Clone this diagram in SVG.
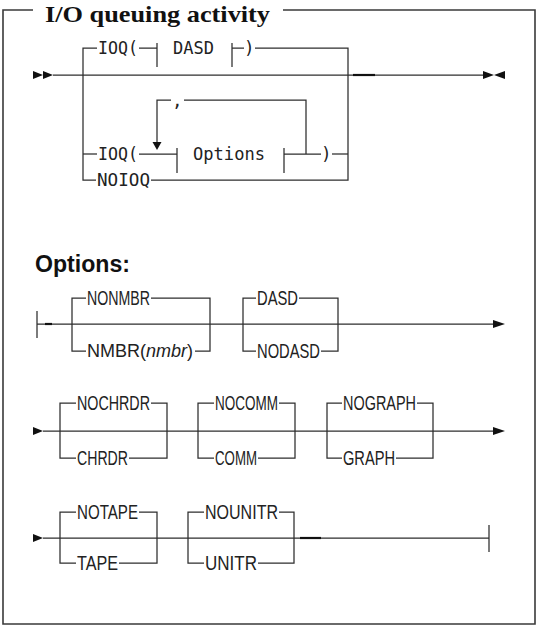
<svg xmlns="http://www.w3.org/2000/svg" width="537" height="626" viewBox="0 0 537 626">
<style>
.ln{stroke:#2e2e2e;stroke-width:1.25;fill:none}
.thick{stroke:#111;stroke-width:2.2;fill:none}
.frame{stroke:#3a3a3a;stroke-width:1.6;fill:none}
.arr{fill:#111;stroke:none}
.mono{font-family:"DejaVu Sans Mono","Liberation Mono",monospace;font-size:17.5px;fill:#222}
.sans{font-family:"Liberation Sans",Arial,sans-serif;font-size:20px;fill:#222}
.sm{font-size:18px}
.it{font-style:italic}
.title{font-family:"Liberation Serif","Times New Roman",serif;font-size:24px;font-weight:bold;fill:#111}
.head{font-family:"Liberation Sans",Arial,sans-serif;font-size:23px;font-weight:bold;fill:#111}
</style>
<rect width="537" height="626" fill="#fff"/>
<g id="frame">
<path class="frame" d="M33,10 H3 V624 H535 V10 H283"/>
<text class="title" x="45" y="22" textLength="225" lengthAdjust="spacingAndGlyphs">I/O queuing activity</text>
</g>
<g id="connectors">
<path class="ln" d="M53,75 H483"/>
<path class="thick" d="M353,75 H375"/>
<path class="ln" d="M97,48 H83 V180 H96"/>
<path class="ln" d="M83,154 H97"/>
<path class="ln" d="M139,48 H157 M157,43 V67"/>
<path class="ln" d="M232,43 V67 M232,48 H244"/>
<path class="ln" d="M255,48 H348 V180 H151"/>
<path class="ln" d="M139,154 H177 M177,148 V173"/>
<path class="ln" d="M284,148 V173 M284,154 H321"/>
<path class="ln" d="M332,154 H348"/>
<path class="ln" d="M306,154 V100 H184 M171,100 H157 V143"/>
<polygon class="arr" points="152.5,142 161.5,142 157,150"/>
<polygon class="arr" points="33,71 43,75 33,79"/>
<polygon class="arr" points="43,71 53,75 43,79"/>
<polygon class="arr" points="483,71 494,75 483,79"/>
<polygon class="arr" points="505,71 494,75 505,79"/>
<path class="ln" d="M37,311 V338 M37,324 H493"/>
<path class="thick" d="M45,324 H52"/>
<polygon class="arr" points="493,320 505,324 493,328"/>
<path class="ln" d="M86,298 H72 V351 H86 M151,298 H210 V351 H195"/>
<path class="ln" d="M256,298 H243 V351 H256 M299,298 H338 V351 H321"/>
<polygon class="arr" points="33,427 43,431 33,435"/>
<path class="ln" d="M43,431 H493"/>
<polygon class="arr" points="493,427 505,431 493,435"/>
<path class="ln" d="M76,403 H60 V458 H76 M151,403 H167 V458 H129"/>
<path class="ln" d="M214,403 H198 V458 H214 M279,403 H295 V458 H258"/>
<path class="ln" d="M342,403 H327 V458 H342 M417,403 H433 V458 H396"/>
<polygon class="arr" points="33,534 43,538 33,542"/>
<path class="ln" d="M43,538 H489 M489,525 V552"/>
<path class="thick" d="M300,538 H321"/>
<path class="ln" d="M76,512 H60 V563 H76 M139,512 H157 V563 H119"/>
<path class="ln" d="M204,512 H188 V563 H204 M279,512 H294 V563 H258"/>
</g>
<g id="n-ioq-dasd">
<text class="mono" x="98" y="54" textLength="40" lengthAdjust="spacingAndGlyphs">IOQ(</text>
<text class="mono" x="173" y="54" textLength="41" lengthAdjust="spacingAndGlyphs">DASD</text>
<text class="mono" x="244" y="54">)</text>
</g>
<g id="n-ioq-options">
<text class="mono" x="98" y="160" textLength="40" lengthAdjust="spacingAndGlyphs">IOQ(</text>
<text class="mono" x="193" y="160" textLength="72" lengthAdjust="spacingAndGlyphs">Options</text>
<text class="mono" x="321" y="160">)</text>
<text class="mono" x="172" y="107">,</text>
</g>
<g id="n-noioq">
<text class="mono" x="97" y="186" textLength="53" lengthAdjust="spacingAndGlyphs">NOIOQ</text>
</g>
<g id="n-options-head">
<text class="head" x="35" y="272" textLength="95" lengthAdjust="spacingAndGlyphs">Options:</text>
</g>
<g id="n-nmbr">
<text class="sans" x="87" y="305" textLength="63" lengthAdjust="spacingAndGlyphs">NONMBR</text>
<text class="sans sm" x="87" y="357">NMBR(<tspan class="it">nmbr</tspan>)</text>
</g>
<g id="n-dasd">
<text class="sans" x="257" y="305" textLength="41" lengthAdjust="spacingAndGlyphs">DASD</text>
<text class="sans" x="257" y="358" textLength="63" lengthAdjust="spacingAndGlyphs">NODASD</text>
</g>
<g id="n-chrdr">
<text class="sans" x="77" y="410" textLength="73" lengthAdjust="spacingAndGlyphs">NOCHRDR</text>
<text class="sans" x="77" y="465" textLength="51" lengthAdjust="spacingAndGlyphs">CHRDR</text>
</g>
<g id="n-comm">
<text class="sans" x="215" y="410" textLength="63" lengthAdjust="spacingAndGlyphs">NOCOMM</text>
<text class="sans" x="215" y="465" textLength="42" lengthAdjust="spacingAndGlyphs">COMM</text>
</g>
<g id="n-graph">
<text class="sans" x="343" y="410" textLength="73" lengthAdjust="spacingAndGlyphs">NOGRAPH</text>
<text class="sans" x="343" y="465" textLength="52" lengthAdjust="spacingAndGlyphs">GRAPH</text>
</g>
<g id="n-tape">
<text class="sans" x="77" y="519" textLength="61" lengthAdjust="spacingAndGlyphs">NOTAPE</text>
<text class="sans" x="77" y="570" textLength="41" lengthAdjust="spacingAndGlyphs">TAPE</text>
</g>
<g id="n-unitr">
<text class="sans" x="205" y="519" textLength="73" lengthAdjust="spacingAndGlyphs">NOUNITR</text>
<text class="sans" x="205" y="570" textLength="52" lengthAdjust="spacingAndGlyphs">UNITR</text>
</g>
</svg>
